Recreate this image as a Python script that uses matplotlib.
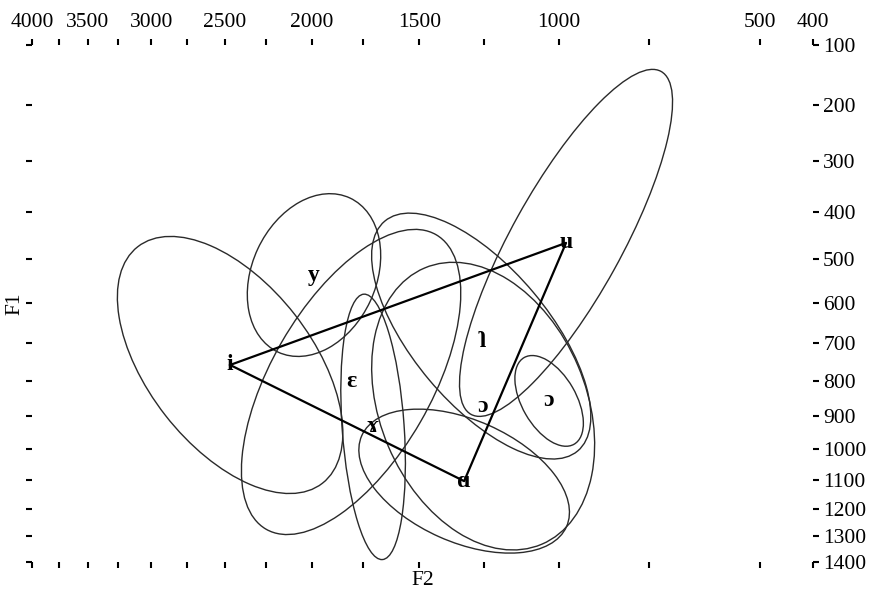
import numpy as np
import matplotlib
matplotlib.use("Agg")
import matplotlib.pyplot as plt
from matplotlib.patches import Ellipse

# vowel means (Hz)
VOWELS = ["i", "y", "ɛ", "ɤ", "ɑ", "u", "ɿ", "ɔ", "ɔ"]
F2 = [2466, 1989, 1804, 1701, 1323, 979, 1260, 1253, 1031]
F1 = [757, 536, 803, 932, 1104, 465, 682, 871, 856]

# dispersion ellipses in auditory units: semi-axes and tilt (deg, down-right +)
SEMI_MAJOR = [1.50, 0.85, 1.70, 1.33, 1.12, 1.96, 1.50, 1.50, 0.50]
SEMI_MINOR = [0.82, 0.62, 0.80, 0.31, 0.61, 0.55, 0.68, 1.03, 0.27]
TILT = [52, -65, -60, 86, 24, -61, 50, 67, 60]

TRIANGLE = [0, 5, 4, 0]   # i -> u -> ɑ -> i

F2_MAJOR = [4000, 3500, 3000, 2500, 2000, 1500, 1000, 500, 400]
F2_MINOR = [3750, 3250, 2750, 2250, 1750, 1250, 750]
F1_TICKS = [100, 200, 300, 400, 500, 600, 700, 800, 900, 1000, 1100, 1200, 1300, 1400]


def warp_f2(f):
    f = np.asarray(f, dtype=float)
    return 4.657 * np.log(4428.0 / (f + 428.0))


def warp_f1(f):
    f = np.asarray(f, dtype=float)
    return 14.589 * f / (f + 2100.0)


SERIF = ["Liberation Serif", "DejaVu Serif"]
plt.rcParams["font.family"] = SERIF
plt.rcParams["font.size"] = 15.5

fig = plt.figure(figsize=(8.75, 5.93), dpi=100)
ax = fig.add_axes([32 / 875, 1 - 562 / 593, 781 / 875, 517.3 / 593])

ux = warp_f2(F2)
vy = warp_f1(F1)

for x, y, a, b, t in zip(ux, vy, SEMI_MAJOR, SEMI_MINOR, TILT):
    ax.add_patch(Ellipse((x, y), 2 * a, 2 * b, angle=t, fill=False,
                         edgecolor="#2a2a2a", lw=1.0))

ax.plot(ux[TRIANGLE], vy[TRIANGLE], color="black", lw=1.6)

for x, y, lab in zip(ux, vy, VOWELS):
    ax.text(x, y, lab, ha="center", va="center", fontsize=17,
            fontweight="bold", family=SERIF)

ax.set_xlim(warp_f2(4000), warp_f2(400))
ax.set_ylim(warp_f1(1400), warp_f1(100))

ax.set_xticks(warp_f2(F2_MAJOR))
ax.set_xticklabels([str(v) for v in F2_MAJOR])
ax.set_xticks(warp_f2(F2_MINOR), minor=True)
ax.set_yticks(warp_f1(F1_TICKS))
ax.set_yticklabels([str(v) for v in F1_TICKS])

ax.tick_params(axis="x", which="both", top=True, bottom=True, labeltop=True,
               labelbottom=False, direction="out", length=4.3, width=1.5,
               pad=5, colors="black")
ax.tick_params(axis="y", left=True, right=True, labelleft=False,
               labelright=True, direction="out", length=4.3, width=1.5,
               pad=3, colors="black")

ax.set_xlabel("F2", labelpad=2)
ax.xaxis.set_label_position("bottom")
ax.set_ylabel("F1", labelpad=1)
ax.yaxis.set_label_position("left")

for s in ("top", "right", "left", "bottom"):
    ax.spines[s].set_visible(False)

fig.savefig("out.png", dpi=100, facecolor="white")
